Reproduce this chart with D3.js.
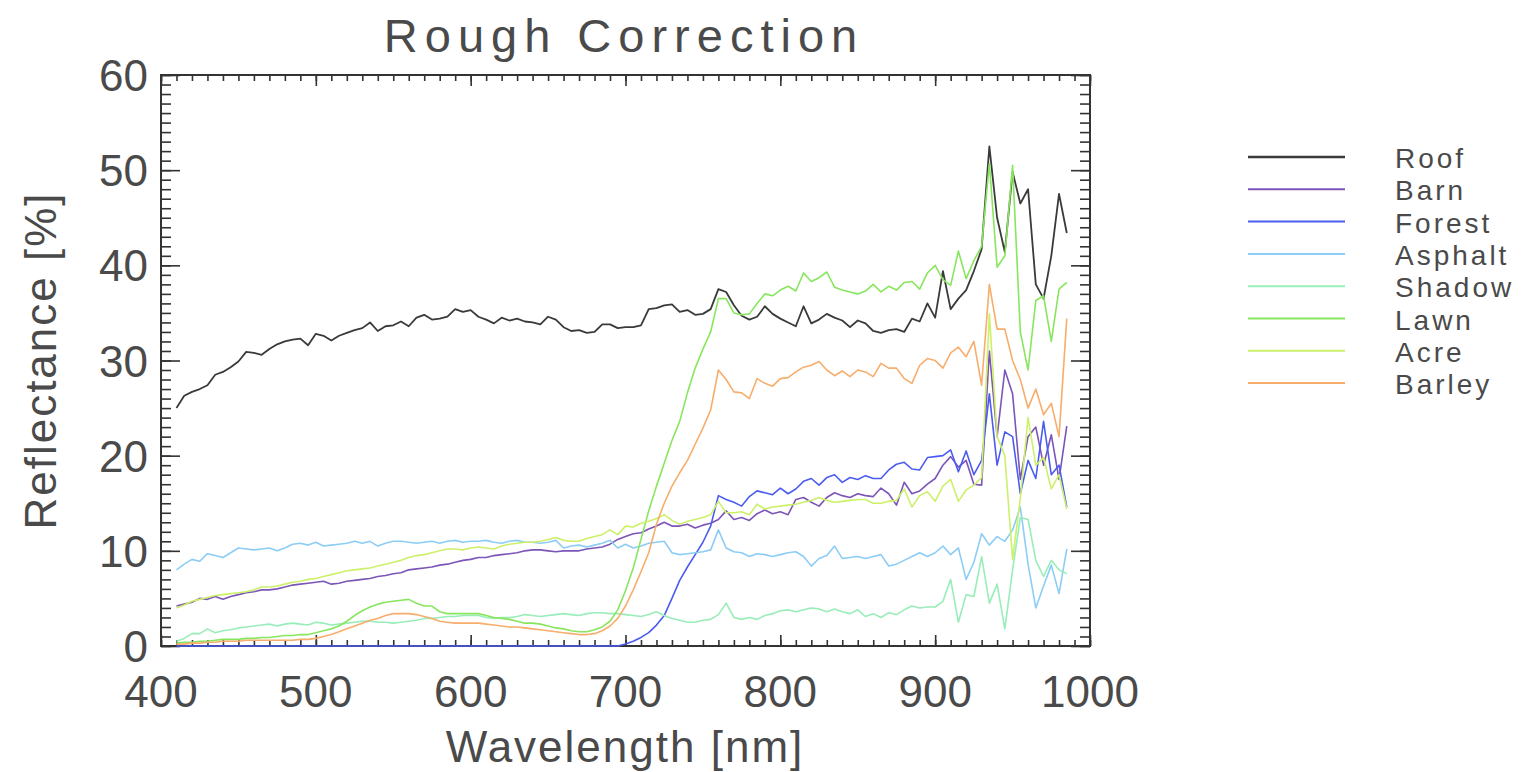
<!DOCTYPE html>
<html>
<head>
<meta charset="utf-8">
<script src="https://cdn.jsdelivr.net/npm/d3@7"></script>
<style>
  body { margin: 0; background: #fff; }
  text { font-family: "Liberation Sans", "DejaVu Sans", sans-serif; fill: #4a4a4a; }
</style>
</head>
<body>
<script>
var w = 1533;
var h = 772;

// wavelength samples [nm]
var wavelengths = [410,415,420,425,430,435,440,445,450,455,460,465,470,475,480,485,490,495,500,505,
  510,515,520,525,530,535,540,545,550,555,560,565,570,575,580,585,590,595,600,605,
  610,615,620,625,630,635,640,645,650,655,660,665,670,675,680,685,690,695,700,705,
  710,715,720,725,730,735,740,745,750,755,760,765,770,775,780,785,790,795,800,805,
  810,815,820,825,830,835,840,845,850,855,860,865,870,875,880,885,890,895,900,905,
  910,915,920,925,930,935,940,945,950,955,960,965,970,975,980,985];

var roof = [25.0,26.3,26.7,27.0,27.4,28.5,28.8,29.3,29.9,30.9,30.8,30.6,31.2,31.7,32.0,32.2,32.3,31.6,32.8,32.6,
  32.1,32.6,32.9,33.2,33.4,34.0,33.1,33.6,33.7,34.1,33.6,34.5,34.8,34.3,34.4,34.6,35.4,35.1,35.3,34.6,
  34.3,33.9,34.5,34.2,34.4,34.1,34.0,33.8,34.6,34.3,33.5,33.1,33.2,32.9,33.0,33.8,33.8,33.4,33.5,33.5,
  33.7,35.4,35.5,35.8,35.9,35.1,35.3,34.8,34.9,35.4,37.5,37.2,35.8,34.7,34.3,34.6,35.7,34.9,34.4,34.0,
  33.6,35.7,33.9,34.3,34.9,34.5,34.2,33.5,34.2,33.9,33.1,32.9,33.2,33.3,33.0,34.4,34.1,36.0,34.5,39.4,
  35.4,36.5,37.4,39.4,41.7,52.5,45.0,41.4,49.8,46.5,48.0,38.0,36.5,41.0,47.5,43.4];

var barn = [4.2,4.4,4.6,5.0,4.9,5.2,4.9,5.2,5.4,5.6,5.7,5.9,5.9,6.0,6.2,6.4,6.5,6.6,6.7,6.8,
  6.5,6.6,6.8,6.9,7.0,7.1,7.3,7.4,7.6,7.7,8.0,8.1,8.2,8.3,8.5,8.6,8.8,9.0,9.1,9.3,
  9.3,9.5,9.6,9.7,9.8,10.0,10.1,10.1,10.0,9.9,10.0,10.0,10.0,10.2,10.3,10.4,10.7,11.2,11.5,11.8,
  11.9,12.3,12.6,13.0,12.6,12.6,12.8,12.4,12.7,12.9,13.3,14.2,13.3,13.5,13.2,13.9,14.3,13.9,14.1,13.8,
  15.4,15.6,15.1,14.7,15.6,16.1,15.8,15.6,16.0,15.8,15.7,16.6,16.0,14.8,17.2,16.0,16.3,17.0,17.6,19.0,
  19.9,18.8,19.5,17.0,16.9,31.0,22.0,29.0,26.5,17.5,22.0,23.0,19.0,22.2,17.5,23.1];

var forest = [0,0,0,0,0,0,0,0,0,0,0,0,0,0,0,0,0,0,0,0,
  0,0,0,0,0,0,0,0,0,0,0,0,0,0,0,0,0,0,0,0,
  0,0,0,0,0,0,0,0,0,0,0,0,0,0,0,0,0,0,0.2,0.5,
  0.9,1.4,2.2,3.2,5.0,6.9,8.3,9.6,10.9,12.6,15.8,15.4,15.1,14.7,15.7,16.3,16.1,15.9,16.6,16.0,
  16.5,17.3,17.6,16.9,17.7,18.0,17.2,17.7,17.5,17.9,17.6,17.6,18.5,19.1,19.3,18.6,18.5,19.8,19.9,20.0,
  20.6,18.3,20.5,18.0,19.5,26.5,19.0,22.5,22.0,16.0,19.5,17.6,23.6,18.0,19.0,14.6];

var asphalt = [8.0,8.6,9.1,8.9,9.7,9.5,9.3,9.8,10.3,10.2,10.1,10.2,10.3,10.0,10.3,10.7,10.8,10.6,10.9,10.5,
  10.6,10.7,10.8,11.0,10.8,11.0,10.5,10.8,11.0,11.0,10.9,10.8,10.9,11.0,10.8,11.0,11.1,10.9,11.0,11.0,
  11.1,10.9,10.8,11.0,11.1,10.9,10.9,10.8,10.9,11.1,10.3,10.5,10.6,10.4,10.6,10.8,11.1,10.3,10.7,10.3,
  10.5,10.8,10.9,11.0,9.8,9.6,9.7,9.8,9.9,10.1,12.2,10.3,9.9,9.8,9.4,9.7,9.6,9.4,9.6,9.8,
  9.9,9.4,8.4,9.2,9.5,10.5,9.2,9.3,9.4,9.2,9.4,9.6,8.4,8.6,9.0,9.4,9.8,9.4,9.8,10.5,
  9.6,10.3,7.0,8.8,11.8,10.6,11.5,11.0,12.2,14.6,8.6,4.0,6.3,8.5,5.5,10.2];

var shadow = [0.5,0.8,1.3,1.3,1.8,1.4,1.6,1.7,1.9,2.0,2.1,2.2,2.3,2.1,2.3,2.4,2.3,2.2,2.5,2.4,
  2.2,2.3,2.4,2.5,2.6,2.6,2.5,2.5,2.4,2.5,2.6,2.7,2.9,2.9,3.0,3.1,3.1,3.2,3.2,3.2,
  3.0,2.9,3.0,3.0,3.1,3.3,3.2,3.1,3.2,3.3,3.4,3.3,3.2,3.4,3.5,3.5,3.4,3.4,3.3,3.2,
  3.1,3.3,3.6,3.2,2.9,2.7,2.5,2.5,2.7,2.8,3.3,4.5,3.0,2.8,3.0,2.8,3.2,3.4,3.7,3.8,
  3.6,3.8,4.0,3.9,3.6,3.9,3.6,3.4,3.8,3.1,3.4,3.0,3.5,3.3,3.8,4.2,4.0,4.1,4.1,4.7,
  7.0,2.5,5.4,5.2,9.4,4.5,6.5,1.8,8.0,13.5,13.3,9.0,7.3,9.0,8.0,7.6];

var lawn = [0.3,0.4,0.4,0.5,0.5,0.6,0.7,0.7,0.7,0.8,0.8,0.9,0.9,1.0,1.1,1.1,1.2,1.2,1.4,1.6,
  1.8,2.1,2.6,3.2,3.7,4.1,4.4,4.6,4.7,4.8,4.9,4.5,4.2,4.2,3.6,3.4,3.4,3.4,3.4,3.4,
  3.2,3.0,2.9,2.8,2.6,2.4,2.4,2.3,2.1,1.9,1.8,1.6,1.5,1.5,1.7,2.0,2.6,3.8,5.8,8.2,
  11.2,14.2,16.8,19.2,21.6,23.6,26.6,29.2,31.2,33.0,36.5,36.5,35.0,34.8,34.9,36.0,37.0,36.8,37.4,37.8,
  37.3,39.2,38.3,38.7,39.3,37.7,37.4,37.2,37.0,37.3,38.0,37.2,37.8,37.4,38.2,38.3,37.5,39.2,40.0,38.5,
  37.9,41.5,38.6,40.5,42.0,50.7,39.8,41.0,50.5,33.0,29.0,36.3,36.8,32.0,37.5,38.2];

var acre = [4.0,4.3,4.7,4.9,5.1,5.3,5.4,5.5,5.6,5.7,5.9,6.2,6.2,6.3,6.5,6.7,6.8,7.0,7.1,7.3,
  7.5,7.7,7.9,8.0,8.1,8.2,8.4,8.6,8.8,9.0,9.3,9.5,9.6,9.8,10.0,10.2,10.2,10.1,10.3,10.4,
  10.3,10.2,10.5,10.7,10.8,10.9,10.9,11.0,11.2,11.4,11.1,11.0,11.0,11.3,11.5,11.7,12.2,11.7,12.6,12.5,
  12.9,13.1,13.4,13.8,13.2,12.8,13.1,13.3,13.5,13.8,15.2,14.0,14.0,14.1,13.8,14.9,14.4,14.6,14.7,14.8,
  14.9,15.1,15.3,15.6,15.3,15.1,15.2,15.3,15.4,15.4,15.0,15.0,15.2,15.3,16.5,14.6,15.8,16.2,15.2,16.8,
  17.5,15.2,16.4,16.9,17.7,34.9,22.0,20.0,9.1,15.5,24.0,19.0,19.8,16.5,18.0,14.4];

var barley = [0.2,0.2,0.3,0.3,0.4,0.4,0.5,0.5,0.5,0.6,0.6,0.6,0.6,0.6,0.6,0.6,0.7,0.7,0.8,1.0,
  1.2,1.5,1.8,2.1,2.4,2.7,2.9,3.2,3.4,3.4,3.4,3.3,3.1,2.9,2.6,2.5,2.4,2.4,2.4,2.4,
  2.3,2.2,2.1,2.0,2.0,1.9,1.8,1.7,1.6,1.5,1.4,1.3,1.2,1.2,1.3,1.6,2.1,2.9,4.2,5.9,
  7.8,9.8,12.8,15.0,16.8,18.2,19.5,21.2,22.9,24.8,29.0,28.0,26.7,26.6,26.0,28.1,27.6,27.3,28.1,28.2,
  28.8,29.3,29.5,29.9,29.0,28.4,28.9,28.3,29.0,28.8,28.3,29.7,29.2,29.2,28.1,27.6,29.5,30.2,30.0,29.2,
  30.8,31.4,30.4,32.0,27.4,38.0,33.3,33.3,30.0,28.0,25.0,27.0,24.3,25.5,22.0,34.4];

var seriesNames = ["Roof", "Barn", "Forest", "Asphalt", "Shadow", "Lawn", "Acre", "Barley"];
var seriesValues = [roof, barn, forest, asphalt, shadow, lawn, acre, barley];
var seriesColors = ["#3a3a3a", "#7c55b8", "#4b5cf0", "#8ccdf6", "#98edb9", "#88e65e", "#cdf06a", "#f7ad6c"];

var xTicks = [400, 500, 600, 700, 800, 900, 1000];
var yTicks = [0, 10, 20, 30, 40, 50, 60];

// plot frame (note: "top" is a reserved window property, so use a prefix)
var pLeft = 161, pRight = 1090, pTop = 75, pBottom = 646;

var x = d3.scaleLinear().domain([400, 1000]).range([pLeft, pRight]);
var y = d3.scaleLinear().domain([0, 60]).range([pBottom, pTop]);

var svg = d3.select("body").append("svg")
    .attr("width", w)
    .attr("height", h);

// frame with inward ticks on all four sides
var axisColor = "#333";
function styleAxis(g) {
  g.select(".domain").remove();
  g.selectAll(".tick line").attr("stroke", axisColor).attr("stroke-width", 1.6);
  g.selectAll(".tick text").remove();
}

var xMinor = d3.range(400, 1001, 10);
var yMinor = d3.range(0, 61, 1);

svg.append("g").attr("transform", "translate(0," + pBottom + ")")
   .call(d3.axisTop(x).tickValues(xMinor).tickSize(6)).call(styleAxis);
svg.append("g").attr("transform", "translate(0," + pBottom + ")")
   .call(d3.axisTop(x).tickValues(xTicks).tickSize(11)).call(styleAxis);
svg.append("g").attr("transform", "translate(0," + pTop + ")")
   .call(d3.axisBottom(x).tickValues(xMinor).tickSize(6)).call(styleAxis);
svg.append("g").attr("transform", "translate(0," + pTop + ")")
   .call(d3.axisBottom(x).tickValues(xTicks).tickSize(11)).call(styleAxis);

svg.append("g").attr("transform", "translate(" + pLeft + ",0)")
   .call(d3.axisRight(y).tickValues(yMinor).tickSize(10)).call(styleAxis);
svg.append("g").attr("transform", "translate(" + pLeft + ",0)")
   .call(d3.axisRight(y).tickValues(yTicks).tickSize(19)).call(styleAxis);
svg.append("g").attr("transform", "translate(" + pRight + ",0)")
   .call(d3.axisLeft(y).tickValues(yMinor).tickSize(10)).call(styleAxis);
svg.append("g").attr("transform", "translate(" + pRight + ",0)")
   .call(d3.axisLeft(y).tickValues(yTicks).tickSize(19)).call(styleAxis);

svg.append("rect")
   .attr("x", pLeft).attr("y", pTop)
   .attr("width", pRight - pLeft).attr("height", pBottom - pTop)
   .attr("fill", "none").attr("stroke", axisColor).attr("stroke-width", 2);

// spectra, drawn over the frame so the zero line of Forest shows
svg.append("clipPath").attr("id", "plotclip")
   .append("rect").attr("x", pLeft).attr("y", pTop - 2).attr("width", pRight - pLeft).attr("height", pBottom - pTop + 4);

var line = d3.line()
    .x(function(d) { return x(d[0]); })
    .y(function(d) { return y(d[1]); });

var plot = svg.append("g").attr("clip-path", "url(#plotclip)");
seriesValues.forEach(function(vals, i) {
  plot.append("path")
      .datum(wavelengths.map(function(wl, j) { return [wl, vals[j]]; }))
      .attr("fill", "none")
      .attr("stroke", seriesColors[i])
      .attr("stroke-width", i == 0 ? 1.8 : 1.6)
      .attr("stroke-linejoin", "round")
      .attr("d", line);
});

// tick labels
svg.selectAll("text.xlab").data(xTicks).enter().append("text")
   .attr("class", "xlab")
   .attr("x", function(d) { return x(d); })
   .attr("y", 707)
   .attr("text-anchor", "middle")
   .style("font-size", "44px")
   .text(function(d) { return d; });

svg.selectAll("text.ylab").data(yTicks).enter().append("text")
   .attr("class", "ylab")
   .attr("x", 148)
   .attr("y", function(d) { return y(d) + 16; })
   .attr("text-anchor", "end")
   .style("font-size", "44px")
   .text(function(d) { return d; });

// titles
svg.append("text")
   .attr("x", 624).attr("y", 52)
   .attr("text-anchor", "middle")
   .style("font-size", "47px")
   .style("letter-spacing", "7px")
   .text("Rough Correction");

svg.append("text")
   .attr("x", 625).attr("y", 762)
   .attr("text-anchor", "middle")
   .style("font-size", "44px")
   .style("letter-spacing", "2px")
   .text("Wavelength [nm]");

svg.append("text")
   .attr("transform", "translate(56," + ((pTop + pBottom) / 2) + ") rotate(-90)")
   .attr("text-anchor", "middle")
   .style("font-size", "44px")
   .style("letter-spacing", "2px")
   .text("Reflectance [%]");

// legend
var legend = svg.append("g");
seriesNames.forEach(function(name, i) {
  var ly = 157 + i * 32.3;
  legend.append("line")
        .attr("x1", 1248).attr("x2", 1345)
        .attr("y1", ly).attr("y2", ly)
        .attr("stroke", seriesColors[i])
        .attr("stroke-width", i == 0 ? 2.5 : 2);
  legend.append("text")
        .attr("x", 1395).attr("y", ly + 11)
        .style("font-size", "28px")
        .style("letter-spacing", "3px")
        .text(name);
});
</script>
</body>
</html>
